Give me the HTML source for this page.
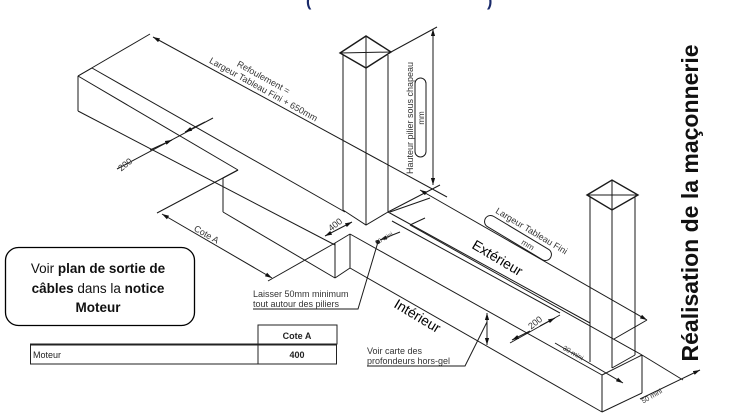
<!DOCTYPE html>
<html><head><meta charset="utf-8"><style>
html,body{margin:0;padding:0;background:#fff;}
svg{display:block;}
text{font-family:"Liberation Sans",sans-serif;}
</style></head><body>
<svg width="738" height="419" viewBox="0 0 738 419" xmlns="http://www.w3.org/2000/svg">
<defs>
<marker id="a" viewBox="0 0 10 10" refX="10" refY="5" markerWidth="7" markerHeight="7" orient="auto-start-reverse"><path d="M0,2 L10,5 L0,8 z" fill="#111"/></marker>
</defs>
<g stroke="#1a1a1a" stroke-width="1" fill="none">
<line x1="92" y1="68" x2="345" y2="212"/>
<line x1="78" y1="76" x2="92" y2="68"/>
<line x1="78" y1="76" x2="238" y2="170"/>
<line x1="78" y1="76" x2="78" y2="111"/>
<line x1="78" y1="111" x2="335" y2="245"/>
<line x1="238" y1="170" x2="223" y2="178"/>
<line x1="223" y1="178" x2="223" y2="212"/>
<line x1="223" y1="212" x2="335" y2="278"/>
<line x1="335" y1="243" x2="335" y2="278"/>
<line x1="350" y1="234" x2="350" y2="268"/>
<line x1="335" y1="243" x2="350" y2="234"/>
<line x1="335" y1="278" x2="350" y2="268"/>
<line x1="238" y1="170" x2="157" y2="213"/>
<line x1="335" y1="243" x2="268" y2="281"/>
<line x1="162" y1="214" x2="272" y2="278" marker-start="url(#a)" marker-end="url(#a)"/>
<line x1="117" y1="169" x2="213" y2="118"/>
<line x1="150" y1="150" x2="172" y2="140" marker-end="url(#a)"/>
<line x1="205" y1="122" x2="185" y2="132" marker-end="url(#a)"/>
<line x1="78" y1="76" x2="150" y2="34"/>
<line x1="153" y1="37" x2="447" y2="197" marker-start="url(#a)"/>
<polygon points="340,53 366,36 391,52 366,68" stroke-width="1.4"/>
<line x1="340" y1="53" x2="391" y2="52"/>
<line x1="366" y1="36" x2="366" y2="68"/>
<line x1="343" y1="55" x2="343" y2="210"/>
<line x1="366" y1="68" x2="366" y2="225"/>
<line x1="388" y1="55" x2="388" y2="212"/>
<polyline points="343,210 366,225 388,212"/>
<line x1="391" y1="52" x2="437" y2="27"/>
<line x1="433" y1="29" x2="433" y2="185" marker-start="url(#a)" marker-end="url(#a)"/>
<line x1="388" y1="212" x2="440" y2="185"/>
<rect x="415" y="78" width="11" height="79" rx="5.5"/>
<line x1="420" y1="190" x2="647" y2="320" marker-start="url(#a)" marker-end="url(#a)"/>
<line x1="647" y1="320" x2="614" y2="339"/>
<line x1="388" y1="212" x2="590" y2="323"/>
<line x1="392" y1="221" x2="560" y2="313"/>
<line x1="350" y1="234" x2="602" y2="375"/>
<line x1="350" y1="268" x2="602" y2="412"/>
<line x1="410" y1="225" x2="642" y2="355"/>
<line x1="390" y1="212" x2="430" y2="198"/>
<line x1="400" y1="232" x2="380" y2="240" marker-end="url(#a)"/>
<line x1="425" y1="218" x2="410" y2="225"/>
<line x1="325" y1="236" x2="352" y2="222" marker-start="url(#a)" marker-end="url(#a)"/>
<polygon points="587,195 612,180 638,195 612,210" stroke-width="1.4"/>
<line x1="587" y1="195" x2="638" y2="195"/>
<line x1="612" y1="180" x2="612" y2="210"/>
<line x1="590" y1="197" x2="590" y2="362"/>
<line x1="612" y1="210" x2="612" y2="368"/>
<line x1="635" y1="197" x2="635" y2="355"/>
<polyline points="612,368 635,355"/>
<line x1="602" y1="375" x2="642" y2="355"/>
<line x1="602" y1="375" x2="602" y2="412"/>
<line x1="642" y1="355" x2="642" y2="393"/>
<line x1="602" y1="412" x2="642" y2="393"/>
<line x1="642" y1="355" x2="683" y2="380"/>
<line x1="640" y1="399" x2="700" y2="370" marker-end="url(#a)"/>
<line x1="510" y1="343" x2="560" y2="315"/>
<line x1="512" y1="340" x2="530" y2="331" marker-start="url(#a)"/>
<line x1="555" y1="318" x2="540" y2="326" marker-start="url(#a)"/>
<line x1="555" y1="343" x2="623" y2="383" marker-end="url(#a)"/>
<line x1="487" y1="313" x2="487" y2="345" marker-start="url(#a)" marker-end="url(#a)"/>
<polyline points="367,366 465,366 487,322"/>
<polyline points="253,309 358,309 378,242"/>
<circle cx="378" cy="242" r="1.5" fill="#111"/>
</g>
<g transform="rotate(31 518 238)">
<rect x="480" y="232" width="76" height="12" rx="6" fill="none" stroke="#1a1a1a"/>
<text x="530" y="241.5" font-size="8" fill="#333" text-anchor="middle">mm</text>
<text x="526" y="228" font-size="9" fill="#333" text-anchor="middle">Largeur Tableau Fini</text>
</g>
<g fill="#333" font-size="9">
<text transform="translate(262,80) rotate(29)" text-anchor="middle">Refoulement =</text>
<text transform="translate(262,92) rotate(29)" text-anchor="middle">Largeur Tableau Fini + 650mm</text>
<text transform="translate(413,118) rotate(-90)" text-anchor="middle">Hauteur pilier sous chapeau</text>
<text transform="translate(424,118) rotate(-90)" text-anchor="middle" font-size="8">mm</text>
<text transform="translate(127,167) rotate(-38)" text-anchor="middle">200</text>
<text transform="translate(205,237) rotate(30)" text-anchor="middle">Cote A</text>
<text transform="translate(337,227) rotate(-38)" text-anchor="middle">400</text>
<text transform="translate(385,240) rotate(-30)" text-anchor="middle" font-size="6">50 mini</text>
<text transform="translate(537,325) rotate(-38)" text-anchor="middle">200</text>
<text transform="translate(572,355) rotate(30)" text-anchor="middle" font-size="7">30 mini</text>
<text transform="translate(653,398) rotate(-30)" text-anchor="middle" font-size="7">50 mini</text>
<text x="253" y="297">Laisser 50mm minimum</text>
<text x="253" y="307">tout autour des piliers</text>
<text x="367" y="354">Voir carte des</text>
<text x="367" y="364">profondeurs hors-gel</text>
</g>
<g fill="#000" font-size="14">
<text transform="translate(495,262) rotate(31)" text-anchor="middle">Extérieur</text>
<text transform="translate(415,320) rotate(31)" text-anchor="middle">Intérieur</text>
</g>
<text transform="translate(698,203) rotate(-90)" text-anchor="middle" font-size="23" font-weight="bold" fill="#111">Réalisation de la maçonnerie</text>
<rect x="5.5" y="247.5" width="189" height="78" rx="13" fill="#fff" stroke="#000" stroke-width="1.3"/>
<g font-size="13.5" fill="#111" text-anchor="middle">
<text x="98" y="273">Voir <tspan font-weight="bold">plan de sortie de</tspan></text>
<text x="98" y="293"><tspan font-weight="bold">câbles</tspan> dans la <tspan font-weight="bold">notice</tspan></text>
<text x="98" y="312" font-weight="bold">Moteur</text>
</g>
<g stroke="#222" fill="none">
<rect x="258" y="325" width="79" height="19" stroke-width="1"/>
<line x1="30" y1="344.5" x2="337" y2="344.5" stroke-width="2"/>
<line x1="30.5" y1="344" x2="30.5" y2="364"/>
<line x1="258" y1="344" x2="258" y2="364"/>
<line x1="336.5" y1="344" x2="336.5" y2="364"/>
<line x1="30" y1="364" x2="337" y2="364"/>
</g>
<text x="297" y="339" font-size="9" font-weight="bold" text-anchor="middle" fill="#222">Cote A</text>
<text x="33" y="358" font-size="9" fill="#222">Moteur</text>
<text x="297" y="358" font-size="9" font-weight="bold" text-anchor="middle" fill="#222">400</text>
<text x="306" y="6" font-size="16" font-weight="bold" fill="#1a2a6a">(</text>
<text x="487" y="6" font-size="16" font-weight="bold" fill="#1a2a6a">)</text>
</svg>
</body></html>
